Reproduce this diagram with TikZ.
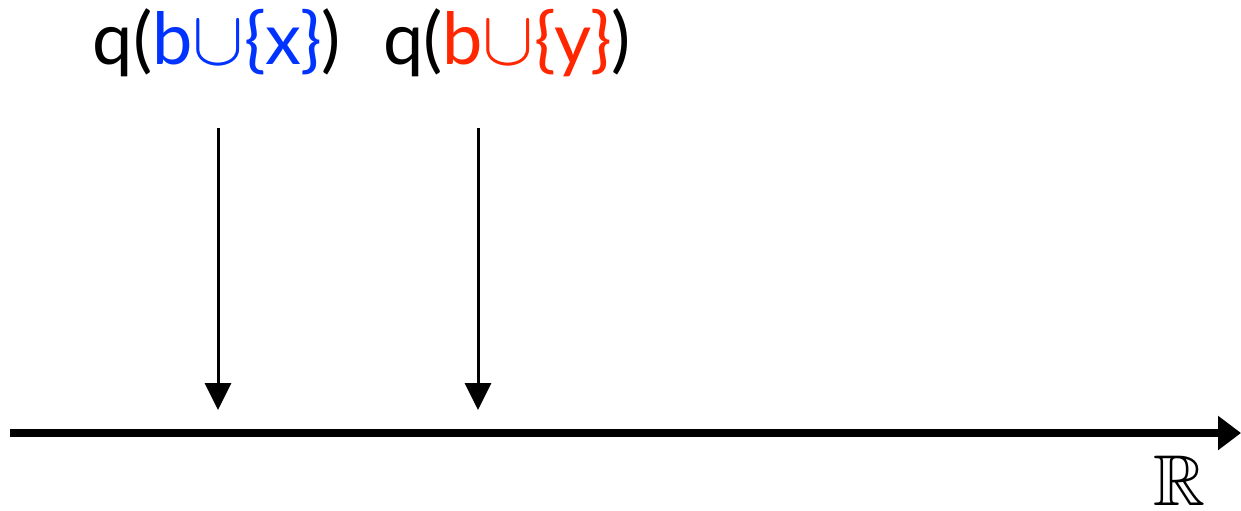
\documentclass[tikz,border=0pt]{standalone}
\usepackage{amssymb}
\usepackage{graphicx}
\usepackage{fontspec}
\setmainfont{Lato}
\usetikzlibrary{arrows.meta}
\definecolor{setblue}{RGB}{0,51,255}
\definecolor{setred}{RGB}{255,38,0}
\newcommand{\bigcupsym}{\scalebox{1.55}{$\cup$}}
\begin{document}
\begin{tikzpicture}[x=0.5pt, y=-0.5pt,
    every node/.style={font=\fontsize{36}{42}\selectfont, inner sep=0pt},
    query/.style={line width=1.5pt, -{Triangle[width=13pt,length=13.5pt]}}]
  \useasboundingbox (0,0) rectangle (1241,510);
  % Real line
  \coordinate (lineleft) at (10,433);
  \coordinate (lineright) at (1241,433);
  \draw[line width=4pt, -{Triangle[width=16.5pt,length=11.5pt]}] (lineleft) -- (lineright);
  \node[anchor=base, font=\fontsize{36}{40}\selectfont] (reals) at (1179,505) {$\mathbb{R}$};
  % Query values
  \node[anchor=base] (qx) at (217,64) {q(\textcolor{setblue}{b\bigcupsym\{x\}})};
  \node[anchor=base] (qy) at (507,64) {q(\textcolor{setred}{b\bigcupsym\{y\}})};
  \coordinate (xtop) at (218,128);
  \coordinate (xhit) at (218,410);
  \coordinate (ytop) at (478,128);
  \coordinate (yhit) at (478,410);
  \draw[query] (xtop) -- (xhit);
  \draw[query] (ytop) -- (yhit);
\end{tikzpicture}
\end{document}
